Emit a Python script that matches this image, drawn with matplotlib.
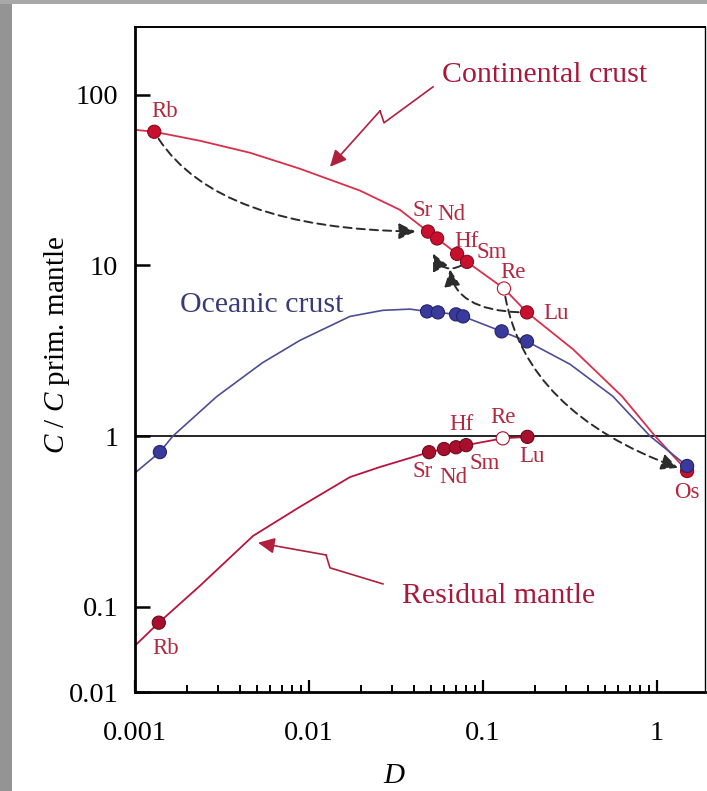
import matplotlib

matplotlib.use("Agg")
import matplotlib.pyplot as plt
from matplotlib.patches import Rectangle
from matplotlib.ticker import FixedLocator, LogLocator, NullFormatter, NullLocator

# Element markers: partition coefficient D and C / C(primitive mantle)
CONT_ELEMENTS = ["Rb", "Sr", "Nd", "Hf", "Sm", "Re", "Lu", "Os"]
CONT_D = [0.00129, 0.0483, 0.0545, 0.0710, 0.0809, 0.132, 0.179, 1.49]
CONT_C = [60.8, 15.8, 14.4, 11.7, 10.5, 7.33, 5.31, 0.624]

OCEAN_ELEMENTS = ["Rb", "Sr", "Nd", "Hf", "Sm", "Re", "Lu", "Os"]
OCEAN_D = [0.00139, 0.0477, 0.0551, 0.0700, 0.0768, 0.128, 0.179, 1.49]
OCEAN_C = [0.806, 5.38, 5.31, 5.17, 5.03, 4.11, 3.59, 0.668]

RESID_ELEMENTS = ["Rb", "Sr", "Nd", "Hf", "Sm", "Re", "Lu"]
RESID_D = [0.00137, 0.0490, 0.0597, 0.0700, 0.0800, 0.130, 0.180]
RESID_C = [0.0806, 0.805, 0.84, 0.86, 0.885, 0.97, 0.99]

# Re is drawn as an open circle on the continental and residual curves
OPEN_ELEMENTS = {"Re"}

# Curves
CONT_CURVE_D = [0.001, 0.00129, 0.00237, 0.00458, 0.00887, 0.0196, 0.0333, 0.0483,
                0.0545, 0.0710, 0.0809, 0.132, 0.179, 0.329, 0.630, 0.975, 1.49]
CONT_CURVE_C = [62.4, 60.8, 53.8, 45.8, 36.9, 27.5, 21.2, 15.8,
                14.4, 11.7, 10.5, 7.33, 5.31, 3.23, 1.71, 1.0, 0.624]

OCEAN_CURVE_D = [0.001, 0.00139, 0.00165, 0.00296, 0.00540, 0.00887, 0.0172, 0.0266,
                 0.0380, 0.0477, 0.0551, 0.0700, 0.0768, 0.128, 0.179, 0.316, 0.558,
                 0.912, 1.49]
OCEAN_CURVE_C = [0.608, 0.806, 1.0, 1.71, 2.69, 3.64, 5.03, 5.46,
                 5.55, 5.38, 5.31, 5.17, 5.03, 4.11, 3.59, 2.64, 1.71,
                 1.0, 0.668]

RESID_CURVE_D = [0.001, 0.00137, 0.00237, 0.00477, 0.00887, 0.0172, 0.0256, 0.0380,
                 0.0490, 0.0597, 0.0700, 0.0800, 0.130, 0.180]
RESID_CURVE_C = [0.0591, 0.0806, 0.133, 0.260, 0.385, 0.575, 0.659, 0.744,
                 0.805, 0.84, 0.86, 0.885, 0.97, 0.99]

X_TICKS = [0.001, 0.01, 0.1, 1]
X_TICK_LABELS = ["0.001", "0.01", "0.1", "1"]
Y_TICKS = [10 ** -1.5, 0.1, 1, 10, 100]
Y_TICK_LABELS = ["0.01", "0.1", "1", "10", "100"]

# label offsets from each marker, in pixels
CONT_LABEL_OFFSETS = {"Rb": (10, 20), "Sr": (-5, 21), "Nd": (14, 24), "Hf": (9, 12),
                      "Sm": (25, 9), "Re": (9, 16), "Lu": (29, -1), "Os": (0, -21)}
RESID_LABEL_OFFSETS = {"Rb": (7, -26), "Sr": (-6, -19), "Nd": (9, -28), "Hf": (5, 23),
                       "Sm": (19, -18), "Re": (0, 21), "Lu": (5, -20)}

CONT_LINE = "#d8304a"
CONT_DOT = "#c8102e"
RESID_LINE = "#b8143c"
RESID_DOT = "#a80f2c"
OCEAN_LINE = "#4d4d95"
OCEAN_DOT = "#3a3a9c"
LABEL_RED = "#b3283f"
ARROW_GREY = "#2b2b2b"

HEAD = "-|>,head_length=0.5,head_width=0.24"


def draw_points(ax, elements, d, c, color, edge, zorder, open_elements=()):
    faces = ["white" if el in open_elements else color for el in elements]
    edges = [color if el in open_elements else edge for el in elements]
    ax.scatter(d, c, s=90, c=faces, edgecolors=edges, linewidths=0.8, zorder=zorder)


def label_points(ax, elements, d, c, offsets):
    for el, x, y in zip(elements, d, c):
        if el not in offsets:
            continue
        ax.annotate(el, (x, y), xytext=offsets[el], textcoords="offset pixels",
                    ha="center", va="center", fontsize=16.5, color=LABEL_RED, zorder=6)


def dashed_arrow(ax, start, end, connection, shrink_a=0, shrink_b=0):
    ax.annotate("", xy=end, xytext=start,
                arrowprops=dict(arrowstyle=HEAD, mutation_scale=20, color=ARROW_GREY,
                                lw=1.4, linestyle=(0, (4.2, 2.6)),
                                connectionstyle=connection,
                                shrinkA=shrink_a, shrinkB=shrink_b),
                zorder=5)


def callout(ax, xs, ys, color):
    ax.plot(xs[:-1], ys[:-1], color=color, lw=1.2, zorder=3)
    ax.annotate("", xy=(xs[-1], ys[-1]), xytext=(xs[-2], ys[-2]),
                arrowprops=dict(arrowstyle=HEAD, mutation_scale=20, color=color,
                                lw=1.2, shrinkA=0, shrinkB=0),
                zorder=3)


def main() -> None:
    plt.rcParams["font.family"] = ["Liberation Serif", "DejaVu Serif"]
    plt.rcParams["mathtext.fontset"] = "custom"
    plt.rcParams["mathtext.rm"] = "Liberation Serif"
    plt.rcParams["mathtext.it"] = "Liberation Serif:italic"

    fig = plt.figure(figsize=(7.07, 7.91), dpi=100, facecolor="white")
    fig.add_artist(Rectangle((0, 0), 12 / 707, 1, transform=fig.transFigure,
                             facecolor="#949494", edgecolor="none", zorder=-5))
    fig.add_artist(Rectangle((0, 1 - 4 / 791), 1, 4 / 791, transform=fig.transFigure,
                             facecolor="#a8a8a8", edgecolor="none", zorder=-5))

    ax = fig.add_axes([135 / 707, 1 - 692 / 791, 570 / 707, 665 / 791])
    ax.set_xscale("log")
    ax.set_yscale("log")
    ax.set_xlim(0.001, 1.888)
    ax.set_ylim(10 ** -1.5, 250)

    ax.axhline(1, color="black", lw=1.2, zorder=1)

    ax.plot(CONT_CURVE_D, CONT_CURVE_C, color=CONT_LINE, lw=1.3, zorder=2)
    ax.plot(OCEAN_CURVE_D, OCEAN_CURVE_C, color=OCEAN_LINE, lw=1.2, zorder=2)
    ax.plot(RESID_CURVE_D, RESID_CURVE_C, color=RESID_LINE, lw=1.3, zorder=2)

    draw_points(ax, RESID_ELEMENTS, RESID_D, RESID_C, RESID_DOT, "#6e0a1c", 4,
                OPEN_ELEMENTS)
    draw_points(ax, CONT_ELEMENTS, CONT_D, CONT_C, CONT_DOT, "#860a20", 4,
                OPEN_ELEMENTS)
    draw_points(ax, OCEAN_ELEMENTS, OCEAN_D, OCEAN_C, OCEAN_DOT, "#24246a", 4.5)

    label_points(ax, CONT_ELEMENTS, CONT_D, CONT_C, CONT_LABEL_OFFSETS)
    label_points(ax, RESID_ELEMENTS, RESID_D, RESID_C, RESID_LABEL_OFFSETS)

    cont = dict(zip(CONT_ELEMENTS, zip(CONT_D, CONT_C)))
    # parent -> daughter arrows
    dashed_arrow(ax, cont["Rb"], cont["Sr"], "angle3,angleA=-60,angleB=0", 6, 9)
    dashed_arrow(ax, cont["Re"], cont["Os"], "angle3,angleA=-82,angleB=-19", 6, 7)
    dashed_arrow(ax, cont["Lu"], (0.0646, 9.48), "angle3,angleA=0,angleB=98", 6, 0)
    dashed_arrow(ax, cont["Sm"], (0.0516, 11.75), "arc3,rad=-0.6", 5, 0)

    callout(ax, [0.0516, 0.0270, 0.0256, 0.0132], [111.4, 68.6, 80.6, 37.9], "#b0203c")
    callout(ax, [0.0266, 0.0132, 0.01253, 0.00509], [0.136, 0.169, 0.201, 0.237], "#b0203c")

    ax.text(0.719, 0.917, "Continental crust", transform=ax.transAxes, ha="center",
            va="baseline", fontsize=21.5, color="#a8183a")
    ax.text(0.637, 0.134, "Residual mantle", transform=ax.transAxes, ha="center",
            va="baseline", fontsize=21.5, color="#a8183a")
    ax.text(0.223, 0.571, "Oceanic crust", transform=ax.transAxes, ha="center",
            va="baseline", fontsize=21.5, color="#3a3a78")

    ax.xaxis.set_major_locator(FixedLocator(X_TICKS))
    ax.set_xticklabels(X_TICK_LABELS)
    ax.xaxis.set_minor_locator(LogLocator(base=10, subs=range(2, 10), numticks=20))
    ax.xaxis.set_minor_formatter(NullFormatter())
    ax.yaxis.set_major_locator(FixedLocator(Y_TICKS))
    ax.set_yticklabels(Y_TICK_LABELS)
    ax.yaxis.set_minor_locator(NullLocator())

    ax.tick_params(axis="x", which="major", direction="in", length=9, width=1.6,
                   labelsize=20.5, pad=21)
    ax.tick_params(axis="x", which="minor", direction="in", length=5, width=1.4)
    ax.tick_params(axis="y", which="major", direction="in", length=11, width=1.8,
                   labelsize=20.5, pad=12)

    ax.spines["left"].set_linewidth(2.0)
    ax.spines["bottom"].set_linewidth(2.0)
    ax.spines["top"].set_linewidth(1.4)
    ax.spines["right"].set_linewidth(1.0)

    ax.set_xlabel("D", fontsize=21, fontstyle="italic")
    ax.xaxis.set_label_coords(0.454, -0.107)
    ax.set_ylabel(r"$C$ / $C$ prim. mantle", fontsize=21)
    ax.yaxis.set_label_coords(-0.111, 0.522)

    fig.savefig("out.png", dpi=100, facecolor=fig.get_facecolor())
    plt.close(fig)


if __name__ == "__main__":
    main()
